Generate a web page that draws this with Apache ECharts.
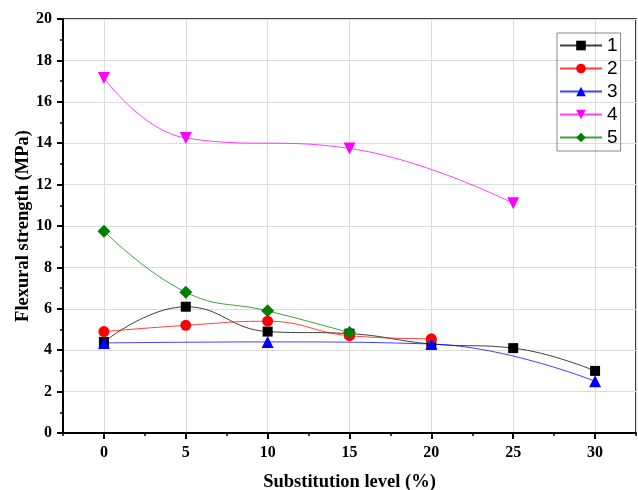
<!DOCTYPE html>
<html>
<head>
<meta charset="utf-8">
<script src="https://cdn.jsdelivr.net/npm/echarts@6/dist/echarts.min.js"></script>
<style>
  html, body { margin: 0; padding: 0; background: #fff; }
  #chart { width: 638px; height: 490px; }
</style>
</head>
<body>
<div id="chart"></div>
<script>
// values, one x/y pair of arrays per curve
const names = ['1', '2', '3', '4', '5'];
const x1 = [0, 5, 10, 15, 20, 25, 30];
const y1 = [4.4, 6.1, 4.9, 4.8, 4.3, 4.1, 3.0];
const x2 = [0, 5, 10, 15, 20];
const y2 = [4.9, 5.2, 5.4, 4.7, 4.55];
const x3 = [0, 10, 20, 30];
const y3 = [4.35, 4.4, 4.3, 2.5];
const x4 = [0, 5, 15, 25];
const y4 = [17.15, 14.25, 13.75, 11.1];
const x5 = [0, 5, 10, 15];
const y5 = [9.75, 6.8, 5.9, 4.85];

const colors = ['#000000', '#ff0000', '#0000ff', '#ff00ff', '#008000'];
const symbols = ['rect', 'circle', 'triangle', 'path://M0,0 L10,0 L5,9 Z', 'diamond'];
const sizes = [10, 11, 12, 12, 13];

const pair = (xs, ys) => xs.map((x, i) => [x, ys[i]]);
const data = [pair(x1, y1), pair(x2, y2), pair(x3, y3), pair(x4, y4), pair(x5, y5)];

const serif = 'Liberation Serif';
const chart = echarts.init(document.getElementById('chart'));

chart.setOption({
  animation: false,
  grid: {
    left: 63, right: 2, top: 19, bottom: 57,
    outerBoundsMode: 'none',
    show: true, borderColor: '#000', borderWidth: 1.5
  },
  legend: {
    orient: 'vertical',
    left: 557, top: 33,
    padding: [3, 3, 4, 2],
    borderColor: '#888', borderWidth: 1,
    itemWidth: 42, itemHeight: 12, itemGap: 4,
    textStyle: { fontFamily: 'Liberation Sans', fontSize: 19, color: '#000' },
    data: names
  },
  xAxis: [
    {
      type: 'value', min: -2.5, max: 32.5,
      splitNumber: 7, minInterval: 5, maxInterval: 5,
      name: 'Substitution level (%)', nameLocation: 'middle', nameGap: 40,
      nameTextStyle: { fontFamily: serif, fontWeight: 'bold', fontSize: 18.5, color: '#000' },
      axisLine: { onZero: false, lineStyle: { color: '#000', width: 2 } },
      axisTick: { length: 6, lineStyle: { color: '#000', width: 2 } },
      axisLabel: {
        margin: 12, fontFamily: serif, fontWeight: 'bold', fontSize: 16, color: '#000',
        showMinLabel: false, showMaxLabel: false,
        formatter: v => (v % 5 === 0 ? String(v) : '')
      },
      splitLine: { show: true, lineStyle: { color: '#dcdcdc', width: 1 } }
    },
    {
      // minor ticks every 2.5
      type: 'value', min: -2.5, max: 32.5, interval: 2.5,
      position: 'bottom',
      axisLine: { show: false, onZero: false },
      axisTick: { length: 3, lineStyle: { color: '#000', width: 1.5 } },
      axisLabel: { show: false },
      splitLine: { show: false }
    }
  ],
  yAxis: {
    type: 'value', min: 0, max: 20, interval: 2,
    name: 'Flexural strength (MPa)', nameLocation: 'middle', nameGap: 30,
    nameMoveOverlap: false,
    nameTextStyle: { fontFamily: serif, fontWeight: 'bold', fontSize: 18.5, color: '#000' },
    axisLine: { show: true, onZero: false, lineStyle: { color: '#000', width: 2 } },
    axisTick: { length: 6, lineStyle: { color: '#000', width: 2 } },
    minorTick: { show: true, splitNumber: 2, length: 3, lineStyle: { color: '#000', width: 1.5 } },
    axisLabel: { margin: 11, fontFamily: serif, fontWeight: 'bold', fontSize: 16, color: '#000' },
    splitLine: { show: true, lineStyle: { color: '#dcdcdc', width: 1 } }
  },
  series: names.map((n, i) => ({
    name: n,
    type: 'line',
    xAxisIndex: 0,
    data: data[i],
    smooth: 0.45,
    symbol: symbols[i],
    symbolSize: sizes[i],
    itemStyle: { color: colors[i] },
    lineStyle: { color: colors[i], width: 1, opacity: 0.75 }
  }))
});
</script>
</body>
</html>
